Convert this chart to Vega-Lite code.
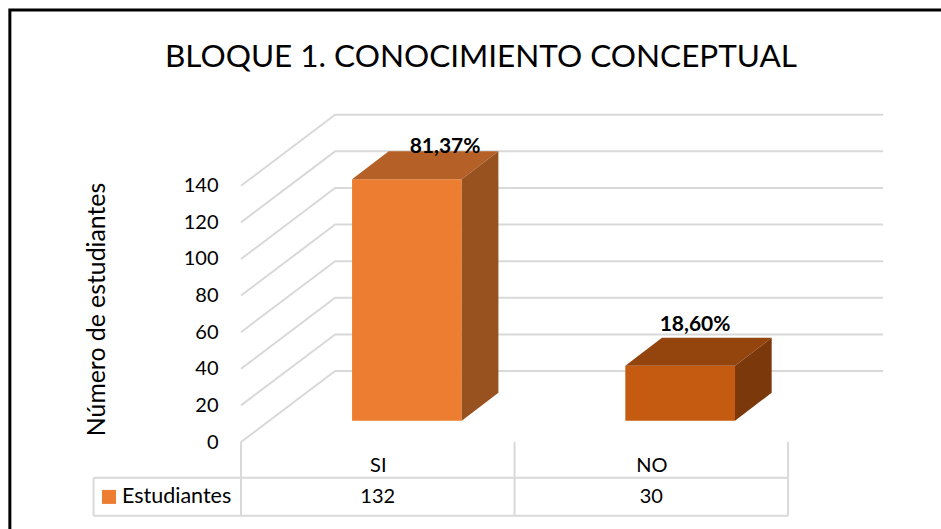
{
"$schema":"https://vega.github.io/schema/vega-lite/v6.json",
"width":642,"height":328,
"autosize":{"type":"none"},
"padding":{"left":241,"top":114,"right":58,"bottom":87},
"background":"white",
"config":{"view":{"stroke":null},"font":"Lato"},
"title":{"text":"BLOQUE 1. CONOCIMIENTO CONCEPTUAL","font":"Lato","fontSize":31.5,"fontWeight":"normal","color":"#000000","anchor":"middle","dx":-81,"offset":-101,"baseline":"bottom"},
"encoding":{
"x":{"field":"x","type":"quantitative","scale":{"domain":[0,2.347],"nice":false,"zero":false},"axis":{"values":[0.5,1.5],"labelExpr":"datum.value == 0.5 ? 'SI' : 'NO'","domain":false,"ticks":false,"grid":false,"title":null,"labelPadding":23,"labelFont":"Lato","labelFontSize":20,"labelColor":"#000000","labelBaseline":"middle"}},
"y":{"field":"y","type":"quantitative","stack":null,"scale":{"domain":[0,179.2],"nice":false,"zero":false},"axis":{"values":[0,20,40,60,80,100,120,140],"domain":false,"ticks":false,"grid":false,"labelPadding":23,"labelFont":"Lato","labelFontSize":20,"labelColor":"#000000","title":"Número de estudiantes","titleFont":"Lato","titleFontSize":24.8,"titleFontWeight":"normal","titleColor":"#000000","titleAngle":-90,"titleAlign":"center","titleBaseline":"middle","titleX":-144,"titleY":195}}
},
"layer":[
{"mark":{"type":"line","stroke":"#000000","strokeWidth":3,"strokeCap":"square"},
"data":{"values":[{"x":-0.845,"y":-47.6,"o":1},{"x":-0.845,"y":236,"o":2},{"x":2.56,"y":236,"o":3}]},
"encoding":{"order":{"field":"o"}}},
{"mark":{"type":"line","stroke":"#D9D9D9","strokeWidth":2},
"data":{"values":[
{"nivel":0,"o":1,"x":0,"y":0},{"nivel":0,"o":2,"x":0.344,"y":38.8},{"nivel":0,"o":3,"x":2.347,"y":38.8},
{"nivel":20,"o":1,"x":0,"y":20},{"nivel":20,"o":2,"x":0.344,"y":58.8},{"nivel":20,"o":3,"x":2.347,"y":58.8},
{"nivel":40,"o":1,"x":0,"y":40},{"nivel":40,"o":2,"x":0.344,"y":78.8},{"nivel":40,"o":3,"x":2.347,"y":78.8},
{"nivel":60,"o":1,"x":0,"y":60},{"nivel":60,"o":2,"x":0.344,"y":98.8},{"nivel":60,"o":3,"x":2.347,"y":98.8},
{"nivel":80,"o":1,"x":0,"y":80},{"nivel":80,"o":2,"x":0.344,"y":118.8},{"nivel":80,"o":3,"x":2.347,"y":118.8},
{"nivel":100,"o":1,"x":0,"y":100},{"nivel":100,"o":2,"x":0.344,"y":138.8},{"nivel":100,"o":3,"x":2.347,"y":138.8},
{"nivel":120,"o":1,"x":0,"y":120},{"nivel":120,"o":2,"x":0.344,"y":158.8},{"nivel":120,"o":3,"x":2.347,"y":158.8},
{"nivel":140,"o":1,"x":0,"y":140},{"nivel":140,"o":2,"x":0.344,"y":178.8},{"nivel":140,"o":3,"x":2.347,"y":178.8}
]},
"encoding":{"detail":{"field":"nivel"},"order":{"field":"o"}}},
{"mark":{"type":"rule","stroke":"#D9D9D9","strokeWidth":2},
"data":{"values":[
{"x":-0.539,"x2":2,"y":-19.5,"y2":-19.5},
{"x":-0.539,"x2":2,"y":-40.3,"y2":-40.3},
{"x":-0.539,"x2":-0.539,"y":-19.5,"y2":-40.3},
{"x":0,"x2":0,"y":0,"y2":-40.3},
{"x":1,"x2":1,"y":0,"y2":-40.3},
{"x":2,"x2":2,"y":0,"y2":-40.3}
]},
"encoding":{"x2":{"field":"x2"},"y2":{"field":"y2"}}},
{"mark":{"type":"area","opacity":1,"line":false},
"data":{"values":[
{"cara":"SI frente","x":0.406,"y":143.6,"y2":11.6},{"cara":"SI frente","x":0.807,"y":143.6,"y2":11.6},
{"cara":"SI superior","x":0.406,"y":143.6,"y2":143.6},{"cara":"SI superior","x":0.54,"y":158.9,"y2":143.6},{"cara":"SI superior","x":0.807,"y":158.9,"y2":143.6},{"cara":"SI superior","x":0.941,"y":158.9,"y2":158.9},
{"cara":"SI lateral","x":0.807,"y":143.6,"y2":11.6},{"cara":"SI lateral","x":0.941,"y":158.9,"y2":26.9},
{"cara":"NO frente","x":1.405,"y":41.6,"y2":11.6},{"cara":"NO frente","x":1.806,"y":41.6,"y2":11.6},
{"cara":"NO superior","x":1.405,"y":41.6,"y2":41.6},{"cara":"NO superior","x":1.539,"y":56.9,"y2":41.6},{"cara":"NO superior","x":1.806,"y":56.9,"y2":41.6},{"cara":"NO superior","x":1.94,"y":56.9,"y2":56.9},
{"cara":"NO lateral","x":1.806,"y":41.6,"y2":11.6},{"cara":"NO lateral","x":1.94,"y":56.9,"y2":26.9}
]},
"encoding":{"y2":{"field":"y2"},"color":{"field":"cara","type":"nominal","legend":null,"scale":{"domain":["SI frente","SI superior","SI lateral","NO frente","NO superior","NO lateral"],"range":["#ED7D31","#B56026","#985220","#C55A11","#94440D","#7B390B"]}}}},
{"mark":{"type":"text","font":"Lato","fontSize":21,"fontWeight":"bold","color":"#000000","align":"center","baseline":"middle"},
"data":{"values":[{"etiqueta":"81,37%","x":0.746,"y":161.3},{"etiqueta":"18,60%","x":1.66,"y":64}]},
"encoding":{"text":{"field":"etiqueta"}}},
{"mark":{"type":"text","font":"Lato","fontSize":20,"color":"#000000","align":"center","baseline":"middle"},
"data":{"values":[{"estudiantes":132,"x":0.5,"y":-30},{"estudiantes":30,"x":1.5,"y":-30}]},
"encoding":{"text":{"field":"estudiantes","type":"quantitative"}}},
{"mark":{"type":"text","font":"Lato","fontSize":21.5,"color":"#000000","align":"left","baseline":"middle","dx":13},
"data":{"values":[{"serie":"Estudiantes","x":-0.4826,"y":-30}]},
"encoding":{"text":{"field":"serie"}}},
{"mark":{"type":"point","shape":"square","filled":true,"opacity":1,"color":"#ED7D31","size":196},
"data":{"values":[{"serie":"Estudiantes","x":-0.4826,"y":-30}]}}
]
}
